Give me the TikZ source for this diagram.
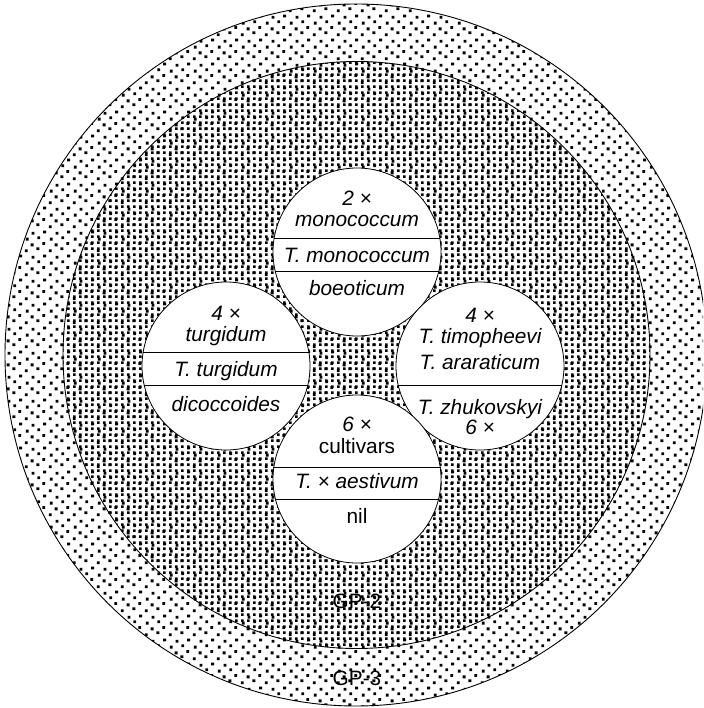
\documentclass[tikz,border=0pt]{standalone}
\usepackage{fontspec}
\setmainfont{Liberation Sans}
\usetikzlibrary{patterns.meta}

\tikzdeclarepattern{
	name=gpdense,
	type=uncolored,
	bottom left={(0pt,0pt)},
	top right={(5.6pt,5.6pt)},
	tile size={(5.6pt,5.6pt)},
	code={
		\fill (0pt,0pt) rectangle (2.9pt,2.9pt);
	}
}
\tikzdeclarepattern{
	name=gpsparse,
	type=uncolored,
	bottom left={(0pt,0pt)},
	top right={(24pt,24pt)},
	tile size={(24pt,24pt)},
	code={
		\foreach \px/\py in {1/1,13/3,7/7,19/8.5,2/13,14/14.5,8/19,20/20.5}
			\fill (\px pt,\py pt) rectangle ++(2.9pt,2.9pt);
	}
}

\begin{document}
\begin{tikzpicture}[
		x=1pt,
		y=-1pt,
		every node/.style={inner sep=0pt},
		pool/.style={
			circle,
			draw,
			line width=0.9pt,
			pattern color=black,
		},
		taxon/.style={
			circle,
			draw,
			fill=white,
			line width=0.8pt,
			minimum size=168pt,
		},
		chord/.style={line width=0.8pt},
		lbl/.style={anchor=base, font=\fontsize{20.8}{25}\selectfont},
		sp/.style={anchor=base, font=\fontsize{20.8}{25}\selectfont\itshape},
	]
		\useasboundingbox (0,0) rectangle (703,708);
		\clip (0,0) rectangle (703,708);

		% gene pools
		\node[pool, pattern=gpsparse, minimum size=702pt] (gp3) at (356,355) {};
		\node[pool, pattern=gpdense, minimum size=587pt] (gp2) at (356.5,355) {};

		% species groups
		\node[taxon] (mono) at (357,252) {};
		\node[taxon] (turg) at (226,366) {};
		\node[taxon] (timo) at (480,366) {};
		\node[taxon] (aest) at (357,479) {};

		\draw[chord] (mono.171) -- (mono.9);
		\draw[chord] (mono.193) -- (mono.-13);
		\draw[chord] (turg.171) -- (turg.9);
		\draw[chord] (turg.193) -- (turg.-13);
		\draw[chord] (timo.193) -- (timo.-13);
		\draw[chord] (aest.172) -- (aest.8);
		\draw[chord] (aest.194) -- (aest.-14);

		\node[sp] (mono-a) at (357,206) {2 ×};
		\node[sp] (mono-b) at (357,227) {monococcum};
		\node[sp] (mono-c) at (357,262.5) {T. monococcum};
		\node[sp] (mono-d) at (357,295.5) {boeoticum};

		\node[sp] (turg-a) at (226,320.7) {4 ×};
		\node[sp] (turg-b) at (226,341.7) {turgidum};
		\node[sp] (turg-c) at (226,376.7) {T. turgidum};
		\node[sp] (turg-d) at (226,411) {dicoccoides};

		\node[sp] (timo-a) at (480,322) {4 ×};
		\node[sp] (timo-b) at (480,343.3) {T. timopheevi};
		\node[sp] (timo-c) at (480,369.3) {T. araraticum};
		\node[sp] (timo-d) at (480,414) {T. zhukovskyi};
		\node[sp] (timo-e) at (480,434.3) {6 ×};

		\node[sp] (aest-a) at (357,431.7) {6 ×};
		\node[lbl] (aest-b) at (357,453.3) {cultivars};
		\node[sp] (aest-c) at (357,488) {T. × aestivum};
		\node[lbl] (aest-d) at (357,523.3) {nil};

		\node[lbl] (gp2-lbl) at (357,608) {GP-2};
		\node[lbl] (gp3-lbl) at (357,685) {GP-3};
	\end{tikzpicture}
\end{document}
